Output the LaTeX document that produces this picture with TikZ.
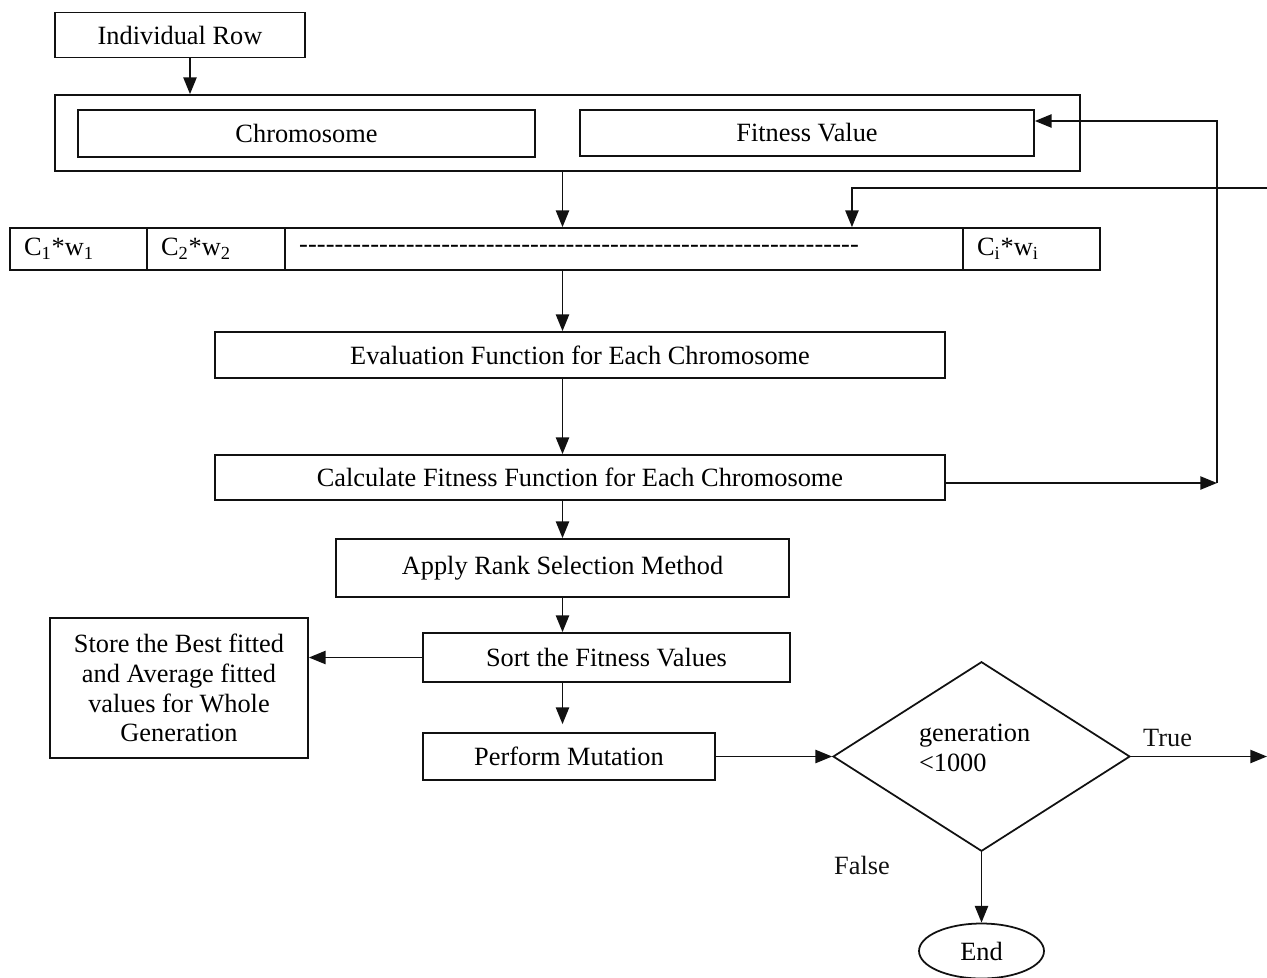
\documentclass[tikz,border=0pt]{standalone}
\usepackage{fontspec}
\setmainfont{Liberation Serif}
\usetikzlibrary{arrows.meta,shapes.geometric}
\definecolor{gaInk}{HTML}{111111}

\begin{document}
\begin{tikzpicture}[x=0.02cm,y=-0.02cm,
		gabox/.style={draw=gaInk,line width=1pt,rectangle,inner sep=0pt,font=\fontsize{15}{17}\selectfont},
		gacell/.style={gabox,minimum height=0.84cm,text width=#1,align=left,inner xsep=0.28cm},
		flow/.style={draw=gaInk,line width=1pt,-{Triangle[length=9.5pt,width=7.5pt]}},
		lbl/.style={font=\fontsize{15}{17}\selectfont,text=gaInk}]
	\useasboundingbox (0,0) rectangle (1267,977);
	% top: one row of the population
	\node[gabox,minimum width=5.0cm,minimum height=0.9cm] (row) at (180,35) {Individual Row};
	\node[gabox,minimum width=20.5cm,minimum height=1.52cm] (outer) at (567.5,133) {};
	\node[gabox,minimum width=9.14cm,minimum height=0.94cm] (chrom) at (306.5,133.5) {Chromosome};
	\node[gabox,minimum width=9.08cm,minimum height=0.92cm] (fit) at (807,133) {Fitness Value};
	% weighted genes
	\node[gacell=2.18cm] (w1) at (78.5,249) {C\textsubscript{1}*w\textsubscript{1}};
	\node[gacell=2.20cm] (w2) at (216,249) {C\textsubscript{2}*w\textsubscript{2}};
	\node[gacell=13.0cm] (dots) at (624,249) {\hbox to 11.2cm{\xleaders\hbox{-}\hfill}};
	\node[gacell=2.18cm] (wi) at (1031.5,249) {C\textsubscript{i}*w\textsubscript{i}};
	% main chain
	\node[gabox,minimum width=14.6cm,minimum height=0.92cm] (eval) at (580,355) {Evaluation Function for Each Chromosome};
	\node[gabox,minimum width=14.6cm,minimum height=0.9cm] (calc) at (580,477.5) {Calculate Fitness Function for Each Chromosome};
	\node[gabox,minimum width=9.06cm,minimum height=1.16cm] (apply) at (562.5,568) {Apply Rank Selection Method};
	\node[gabox,minimum width=7.34cm,minimum height=0.98cm] (sort) at (606.5,657.5) {Sort the Fitness Values};
	\node[gabox,minimum width=5.84cm,minimum height=0.94cm] (perform) at (569,756.5) {Perform Mutation};
	\node[gabox,minimum width=5.16cm,minimum height=2.8cm,align=center] (store) at (179,688)
		{Store the Best fitted\\and Average fitted\\values for Whole\\Generation};
	\node[gabox,shape=diamond,minimum width=5.94cm,minimum height=3.6cm] (dec) at (981.5,756.5)
		{\parbox{2.5cm}{generation\\<1000\par\vspace{0.34cm}}};
	\node[gabox,shape=ellipse,minimum width=2.5cm,minimum height=1.1cm] (fin) at (981.5,951) {End};
	\coordinate (loopB) at (1217,483);
	\coordinate (loopT) at (1217,121);
	\coordinate (backIn) at (1267,188);
	\coordinate (trueOut) at (1267,756.5);
	% connectors
	\draw[flow] ([xshift=0.2cm]row.south) -- ([xshift=0.2cm]row.south |- outer.north);
	\draw[flow] (outer.south -| apply) -- (dots.north -| apply);
	\draw[flow] (dots.south -| apply) -- (eval.north -| apply);
	\draw[flow] (eval.south -| apply) -- (calc.north -| apply);
	\draw[flow] (calc.south -| apply) -- (apply.north);
	\draw[flow] (apply.south) -- (sort.north -| apply);
	\draw[flow] (sort.south -| apply) -- ([yshift=0.16cm]perform.north -| apply);
	\draw[flow] (sort.west) -- (store.east |- sort.west);
	\draw[flow] (perform.east) -- (dec.west);
	\draw[flow] (dec.east) -- (trueOut) node[lbl,pos=0.27,above=2pt] {True};
	\draw[flow] (dec.south) -- (fin.north);
	\node[lbl] (falseLbl) at (862,865) {False};
	% feedback loops
	\draw[flow] (calc.east |- loopB) -- (loopB);
	\draw[flow] (loopB) -- (loopT) -- (fit.east |- loopT);
	\draw[flow] (backIn) -| ([xshift=4.56cm]dots.north);
\end{tikzpicture}
\end{document}
